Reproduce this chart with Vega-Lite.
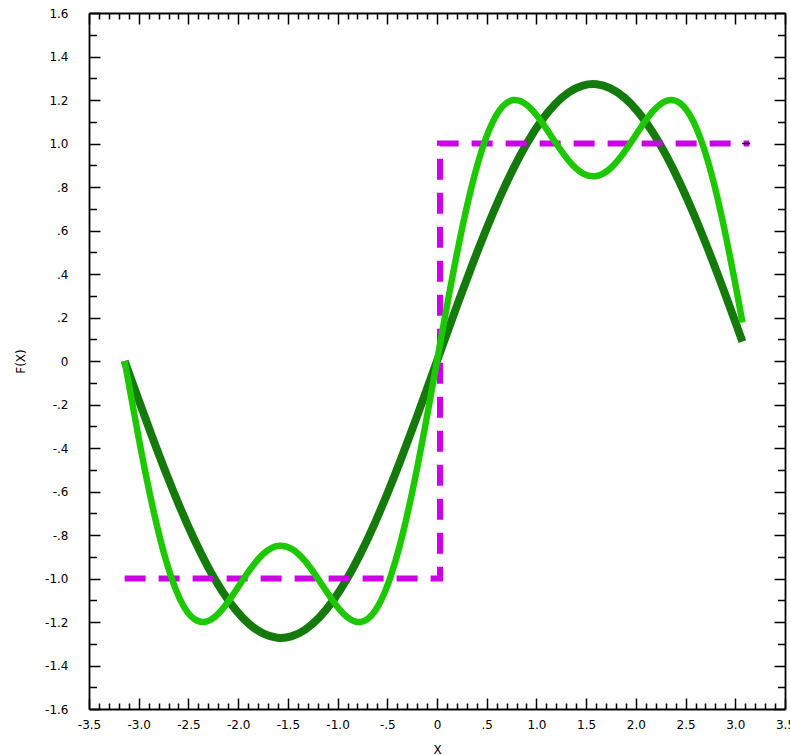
{
  "$schema": "https://vega.github.io/schema/vega-lite/v6.json",
  "width": 696,
  "height": 696,
  "autosize": "none",
  "padding": {"left": 89, "top": 13, "right": 5, "bottom": 46},
  "background": "white",
  "config": {
    "view": {"stroke": null},
    "axis": {
      "labelFont": "DejaVu Sans",
      "titleFont": "DejaVu Sans",
      "labelFontSize": 12,
      "titleFontSize": 12,
      "titleFontWeight": "normal",
      "labelColor": "#000",
      "titleColor": "#000",
      "domainColor": "#000",
      "tickColor": "#000",
      "domainWidth": 1.8,
      "tickWidth": 1.5,
      "grid": false
    }
  },
  "datasets": {
    "curves": [
      {"s": "f1", "x": -3.1416, "y": 0},
      {"s": "f1", "x": -3.0020, "y": -0.1772},
      {"s": "f1", "x": -2.8623, "y": -0.3510},
      {"s": "f1", "x": -2.7227, "y": -0.5179},
      {"s": "f1", "x": -2.5831, "y": -0.6747},
      {"s": "f1", "x": -2.4435, "y": -0.8184},
      {"s": "f1", "x": -2.3038, "y": -0.9462},
      {"s": "f1", "x": -2.1642, "y": -1.0556},
      {"s": "f1", "x": -2.0246, "y": -1.1444},
      {"s": "f1", "x": -1.8850, "y": -1.2109},
      {"s": "f1", "x": -1.7453, "y": -1.2539},
      {"s": "f1", "x": -1.6057, "y": -1.2725},
      {"s": "f1", "x": -1.4661, "y": -1.2663},
      {"s": "f1", "x": -1.3265, "y": -1.2354},
      {"s": "f1", "x": -1.1868, "y": -1.1805},
      {"s": "f1", "x": -1.0472, "y": -1.1027},
      {"s": "f1", "x": -0.9076, "y": -1.0033},
      {"s": "f1", "x": -0.7679, "y": -0.8845},
      {"s": "f1", "x": -0.6283, "y": -0.7484},
      {"s": "f1", "x": -0.4887, "y": -0.5977},
      {"s": "f1", "x": -0.3491, "y": -0.4355},
      {"s": "f1", "x": -0.2094, "y": -0.2647},
      {"s": "f1", "x": -0.0698, "y": -0.0888},
      {"s": "f1", "x": 0.0698, "y": 0.0888},
      {"s": "f1", "x": 0.2094, "y": 0.2647},
      {"s": "f1", "x": 0.3491, "y": 0.4355},
      {"s": "f1", "x": 0.4887, "y": 0.5977},
      {"s": "f1", "x": 0.6283, "y": 0.7484},
      {"s": "f1", "x": 0.7679, "y": 0.8845},
      {"s": "f1", "x": 0.9076, "y": 1.0033},
      {"s": "f1", "x": 1.0472, "y": 1.1027},
      {"s": "f1", "x": 1.1868, "y": 1.1805},
      {"s": "f1", "x": 1.3265, "y": 1.2354},
      {"s": "f1", "x": 1.4661, "y": 1.2663},
      {"s": "f1", "x": 1.6057, "y": 1.2725},
      {"s": "f1", "x": 1.7453, "y": 1.2539},
      {"s": "f1", "x": 1.8850, "y": 1.2109},
      {"s": "f1", "x": 2.0246, "y": 1.1444},
      {"s": "f1", "x": 2.1642, "y": 1.0556},
      {"s": "f1", "x": 2.3038, "y": 0.9462},
      {"s": "f1", "x": 2.4435, "y": 0.8184},
      {"s": "f1", "x": 2.5831, "y": 0.6747},
      {"s": "f1", "x": 2.7227, "y": 0.5179},
      {"s": "f1", "x": 2.8623, "y": 0.3510},
      {"s": "f1", "x": 3.0020, "y": 0.1772},
      {"s": "f1", "x": 3.0718, "y": 0.0888},
      {"s": "f3", "x": -3.1416, "y": 0},
      {"s": "f3", "x": -3.0020, "y": -0.3498},
      {"s": "f3", "x": -2.8623, "y": -0.6663},
      {"s": "f3", "x": -2.7227, "y": -0.9215},
      {"s": "f3", "x": -2.5831, "y": -1.0968},
      {"s": "f3", "x": -2.4435, "y": -1.1860},
      {"s": "f3", "x": -2.3038, "y": -1.1957},
      {"s": "f3", "x": -2.1642, "y": -1.1438},
      {"s": "f3", "x": -2.0246, "y": -1.0561},
      {"s": "f3", "x": -1.8850, "y": -0.9615},
      {"s": "f3", "x": -1.7453, "y": -0.8863},
      {"s": "f3", "x": -1.6057, "y": -0.8504},
      {"s": "f3", "x": -1.4661, "y": -0.8626},
      {"s": "f3", "x": -1.3265, "y": -0.9200},
      {"s": "f3", "x": -1.1868, "y": -1.0079},
      {"s": "f3", "x": -1.0472, "y": -1.1027},
      {"s": "f3", "x": -0.9076, "y": -1.1760},
      {"s": "f3", "x": -0.7679, "y": -1.1999},
      {"s": "f3", "x": -0.6283, "y": -1.1520},
      {"s": "f3", "x": -0.4887, "y": -1.0198},
      {"s": "f3", "x": -0.3491, "y": -0.8030},
      {"s": "f3", "x": -0.2094, "y": -0.5142},
      {"s": "f3", "x": -0.0698, "y": -0.1771},
      {"s": "f3", "x": 0.0698, "y": 0.1771},
      {"s": "f3", "x": 0.2094, "y": 0.5142},
      {"s": "f3", "x": 0.3491, "y": 0.8030},
      {"s": "f3", "x": 0.4887, "y": 1.0198},
      {"s": "f3", "x": 0.6283, "y": 1.1520},
      {"s": "f3", "x": 0.7679, "y": 1.1999},
      {"s": "f3", "x": 0.9076, "y": 1.1760},
      {"s": "f3", "x": 1.0472, "y": 1.1027},
      {"s": "f3", "x": 1.1868, "y": 1.0079},
      {"s": "f3", "x": 1.3265, "y": 0.9200},
      {"s": "f3", "x": 1.4661, "y": 0.8626},
      {"s": "f3", "x": 1.6057, "y": 0.8504},
      {"s": "f3", "x": 1.7453, "y": 0.8863},
      {"s": "f3", "x": 1.8850, "y": 0.9615},
      {"s": "f3", "x": 2.0246, "y": 1.0561},
      {"s": "f3", "x": 2.1642, "y": 1.1438},
      {"s": "f3", "x": 2.3038, "y": 1.1957},
      {"s": "f3", "x": 2.4435, "y": 1.1860},
      {"s": "f3", "x": 2.5831, "y": 1.0968},
      {"s": "f3", "x": 2.7227, "y": 0.9215},
      {"s": "f3", "x": 2.8623, "y": 0.6663},
      {"s": "f3", "x": 3.0020, "y": 0.3498},
      {"s": "f3", "x": 3.0718, "y": 0.1771}
    ],
    "square": [
      {"x": -3.1416, "y": -1},
      {"x": 0.03, "y": -1},
      {"x": 0.03, "y": 1},
      {"x": 3.1416, "y": 1}
    ],
    "endtick": [
      {"x": 3.07, "x2": 3.15, "y": 1}
    ]
  },
  "resolve": {"axis": {"x": "independent", "y": "independent"}},
  "layer": [
    {
      "data": {"name": "curves"},
      "transform": [{"filter": "datum.s == 'f1'"}],
      "mark": {"type": "line", "color": "#147a0c", "strokeWidth": 8, "interpolate": "natural", "clip": false},
      "encoding": {
        "x": {
          "field": "x", "type": "quantitative",
          "scale": {"domain": [-3.5, 3.5], "nice": false, "zero": false},
          "axis": {
            "orient": "bottom", "title": "X",
            "values": [-3.5, -3, -2.5, -2, -1.5, -1, -0.5, 0, 0.5, 1, 1.5, 2, 2.5, 3, 3.5],
            "tickSize": -11, "labelPadding": 21, "labelFlush": false, "labelOverlap": false,
            "labelExpr": "datum.value == 0 ? '0' : (datum.value < 0 ? '-' : '') + (abs(datum.value) < 1 ? replace(format(abs(datum.value), '.1f'), '0.', '.') : format(abs(datum.value), '.1f'))",
            "titleX": 348, "titleY": 40, "titleBaseline": "middle", "titleAlign": "center"
          }
        },
        "y": {
          "field": "y", "type": "quantitative",
          "scale": {"domain": [-1.6, 1.6], "nice": false, "zero": false},
          "axis": {
            "orient": "left", "title": "F(X)",
            "values": [-1.6, -1.4, -1.2, -1, -0.8, -0.6, -0.4, -0.2, 0, 0.2, 0.4, 0.6, 0.8, 1, 1.2, 1.4, 1.6],
            "tickSize": -11, "labelPadding": 32, "labelFlush": false, "labelOverlap": false,
            "labelExpr": "datum.value == 0 ? '0' : (datum.value < 0 ? '-' : '') + (abs(datum.value) < 1 ? replace(format(abs(datum.value), '.1f'), '0.', '.') : format(abs(datum.value), '.1f'))",
            "titleX": -69, "titleY": 348, "titleAngle": 270, "titleBaseline": "middle", "titleAlign": "center"
          }
        }
      }
    },
    {
      "data": {"name": "square"},
      "mark": {"type": "line", "color": "#cc00e6", "strokeWidth": 6, "strokeDash": [21, 13], "interpolate": "linear", "clip": false},
      "encoding": {
        "x": {
          "field": "x", "type": "quantitative", "sort": null,
          "scale": {"domain": [-3.5, 3.5], "nice": false, "zero": false},
          "axis": {"orient": "top", "title": null, "labels": false, "tickSize": -11,
            "values": [-3.5, -3, -2.5, -2, -1.5, -1, -0.5, 0, 0.5, 1, 1.5, 2, 2.5, 3, 3.5]}
        },
        "y": {
          "field": "y", "type": "quantitative",
          "scale": {"domain": [-1.6, 1.6], "nice": false, "zero": false},
          "axis": {"orient": "right", "title": null, "labels": false, "tickSize": -11,
            "values": [-1.6, -1.4, -1.2, -1, -0.8, -0.6, -0.4, -0.2, 0, 0.2, 0.4, 0.6, 0.8, 1, 1.2, 1.4, 1.6]}
        }
      }
    },
    {
      "data": {"name": "curves"},
      "transform": [{"filter": "datum.s == 'f3'"}],
      "mark": {"type": "line", "color": "#1ec800", "strokeWidth": 6.5, "interpolate": "natural", "clip": false},
      "encoding": {
        "x": {
          "field": "x", "type": "quantitative",
          "scale": {"domain": [-3.5, 3.5], "nice": false, "zero": false},
          "axis": {"orient": "bottom", "title": null, "labels": false, "domain": false, "tickSize": -6,
            "values": [-3.4,-3.3,-3.2,-3.1,-2.9,-2.8,-2.7,-2.6,-2.4,-2.3,-2.2,-2.1,-1.9,-1.8,-1.7,-1.6,-1.4,-1.3,-1.2,-1.1,-0.9,-0.8,-0.7,-0.6,-0.4,-0.3,-0.2,-0.1,0.1,0.2,0.3,0.4,0.6,0.7,0.8,0.9,1.1,1.2,1.3,1.4,1.6,1.7,1.8,1.9,2.1,2.2,2.3,2.4,2.6,2.7,2.8,2.9,3.1,3.2,3.3,3.4]}
        },
        "y": {
          "field": "y", "type": "quantitative",
          "scale": {"domain": [-1.6, 1.6], "nice": false, "zero": false},
          "axis": {"orient": "left", "title": null, "labels": false, "domain": false, "tickSize": -7.5,
            "values": [-1.5,-1.3,-1.1,-0.9,-0.7,-0.5,-0.3,-0.1,0.1,0.3,0.5,0.7,0.9,1.1,1.3,1.5]}
        }
      }
    },
    {
      "data": {"name": "endtick"},
      "mark": {"type": "rule", "color": "#000", "strokeWidth": 1.5, "clip": false},
      "encoding": {
        "x": {
          "field": "x", "type": "quantitative",
          "scale": {"domain": [-3.5, 3.5], "nice": false, "zero": false},
          "axis": {"orient": "top", "title": null, "labels": false, "domain": false, "tickSize": -6,
            "values": [-3.4,-3.3,-3.2,-3.1,-2.9,-2.8,-2.7,-2.6,-2.4,-2.3,-2.2,-2.1,-1.9,-1.8,-1.7,-1.6,-1.4,-1.3,-1.2,-1.1,-0.9,-0.8,-0.7,-0.6,-0.4,-0.3,-0.2,-0.1,0.1,0.2,0.3,0.4,0.6,0.7,0.8,0.9,1.1,1.2,1.3,1.4,1.6,1.7,1.8,1.9,2.1,2.2,2.3,2.4,2.6,2.7,2.8,2.9,3.1,3.2,3.3,3.4]}
        },
        "x2": {"field": "x2"},
        "y": {
          "field": "y", "type": "quantitative",
          "scale": {"domain": [-1.6, 1.6], "nice": false, "zero": false},
          "axis": {"orient": "right", "title": null, "labels": false, "domain": false, "tickSize": -7.5,
            "values": [-1.5,-1.3,-1.1,-0.9,-0.7,-0.5,-0.3,-0.1,0.1,0.3,0.5,0.7,0.9,1.1,1.3,1.5]}
        }
      }
    }
  ]
}
